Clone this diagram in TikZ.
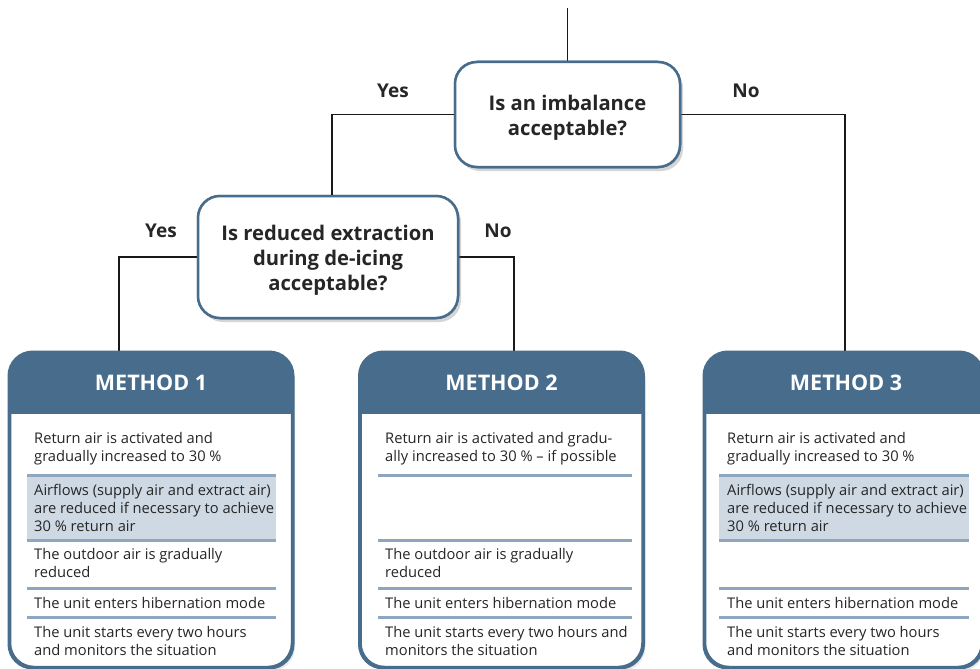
\documentclass[tikz,border=0pt]{standalone}
\usepackage{fontspec}
\setmainfont{Open Sans}
\usetikzlibrary{shadows}
\definecolor{hdr}{HTML}{476C8C}
\definecolor{sepc}{HTML}{8EA7BF}
\definecolor{shadec}{HTML}{CED9E4}
\newcommand{\dectext}[1]{\raisebox{-3.5pt}[\height][\depth]{\begin{tabular}{@{}c@{}}#1\end{tabular}}}
\tikzset{
  decbox/.style={draw=hdr, line width=2.5pt, rounded corners=22pt, fill=white,
    inner sep=0pt, font=\bfseries\fontsize{20.2}{25}\selectfont, text=black!85,
    drop shadow={shadow xshift=3pt, shadow yshift=-4pt, opacity=0.18}},
  methbox/.style={draw=hdr, line width=2.5pt, rounded corners=24pt, fill=white, inner sep=0pt,
    minimum height=314pt,
    drop shadow={shadow xshift=3pt, shadow yshift=-4pt, opacity=0.18}},
  hdrtext/.style={text=white, font=\bfseries\fontsize{21.5}{25}\selectfont},
  rowtext/.style={anchor=west, align=left, inner sep=0pt, text=black!85,
    font=\fontsize{14.7}{18}\selectfont},
  seprule/.style={draw=sepc, line width=3pt},
  conn/.style={draw=black!90, line width=1.6pt},
  ans/.style={font=\bfseries\fontsize{19}{23}\selectfont, text=black!85}
}
\begin{document}
\begin{tikzpicture}[x=1pt,y=-1pt]
\useasboundingbox (0,0) rectangle (980,669);
\clip (0,0) rectangle (980,669);
% coordinates
\coordinate (top) at (567.5,8);
% decision nodes
\node[decbox, minimum width=225pt, minimum height=105pt] (d1) at (567.5,114.5) {\dectext{Is an imbalance\\acceptable?}};
\node[decbox, minimum width=260pt, minimum height=122pt] (d2) at (328,257) {\dectext{Is reduced extraction\\during de-icing\\acceptable?}};
% method boxes
\node[methbox, minimum width=282pt] (m1) at (151,510) {};
\node[methbox, minimum width=282pt] (m2) at (501.5,510) {};
\node[methbox, minimum width=277pt] (m3) at (843.5,510) {};
% connectors
\draw[conn] (top) -- (d1.north);
\draw[conn] (d1.west) -| ([xshift=4pt]d2.north);
\draw[conn] (d1.east) -| ([xshift=1.5pt]m3.north);
\draw[conn] (d2.west) -| ([xshift=-32pt]m1.north);
\draw[conn] (d2.east) -| ([xshift=12.5pt]m2.north);
% redraw boxes over connector ends
\node[decbox, minimum width=225pt, minimum height=105pt] at (d1) {\dectext{Is an imbalance\\acceptable?}};
\node[decbox, minimum width=260pt, minimum height=122pt] at (d2) {\dectext{Is reduced extraction\\during de-icing\\acceptable?}};
% answer labels
\node[ans] (y1) at (393,91) {Yes};
\node[ans] (n1) at (746,91) {No};
\node[ans] (y2) at (161,231) {Yes};
\node[ans] (n2) at (498,231) {No};
% headers
\foreach \m in {m1,m2,m3}{
  \begin{scope}
    \clip[rounded corners=24pt] (\m.north west) rectangle (\m.south east);
    \fill[hdr] (\m.north west) rectangle ([yshift=-62pt]\m.north east);
  \end{scope}
  \draw[draw=hdr, line width=2.5pt, rounded corners=24pt] (\m.north west) rectangle (\m.south east);
}
\node[hdrtext] (h1) at (151,383) {METHOD 1};
\node[hdrtext] (h2) at (501.5,383) {METHOD 2};
\node[hdrtext] (h3) at (846,383) {METHOD 3};
% shaded rows
\fill[shadec] (27,475) rectangle (276,540);
\fill[shadec] (719,475) rectangle (969,540);
% separators
\foreach \y in {475.5,540,588,617}{
  \draw[seprule] (27,\y) -- (276,\y);
  \draw[seprule] (378,\y) -- (632,\y);
  \draw[seprule] (719,\y) -- (969,\y);
}
% Method 1 texts
\node[rowtext] (a1) at (34,449) {Return air is activated and\\gradually increased to 30 \%};
\node[rowtext] (a2) at (34,508) {Airflows (supply air and extract air)\\are reduced if necessary to achieve\\30 \% return air};
\node[rowtext] (a3) at (34,563) {The outdoor air is gradually\\reduced};
\node[rowtext] (a4) at (34,603) {The unit enters hibernation mode};
\node[rowtext] (a5) at (34,641) {The unit starts every two hours\\and monitors the situation};
% Method 2 texts
\node[rowtext] (b1) at (385,449) {Return air is activated and gradu-\\ally increased to 30 \% – if possible};
\node[rowtext] (b3) at (385,563) {The outdoor air is gradually\\reduced};
\node[rowtext] (b4) at (385,603) {The unit enters hibernation mode};
\node[rowtext] (b5) at (385,641) {The unit starts every two hours and\\monitors the situation};
% Method 3 texts
\node[rowtext] (c1) at (727,449) {Return air is activated and\\gradually increased to 30 \%};
\node[rowtext] (c2) at (727,508) {Airflows (supply air and extract air)\\are reduced if necessary to achieve\\30 \% return air};
\node[rowtext] (c4) at (727,603) {The unit enters hibernation mode};
\node[rowtext] (c5) at (727,641) {The unit starts every two hours\\and monitors the situation};
\end{tikzpicture}
\end{document}
